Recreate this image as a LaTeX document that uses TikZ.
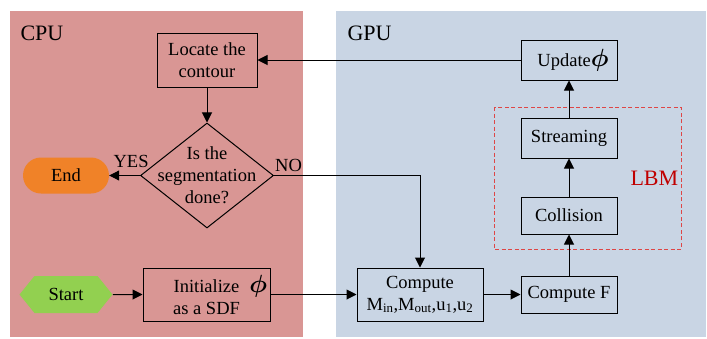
\documentclass[tikz,border=0pt]{standalone}
\usepackage{fontspec}
\setmainfont{Liberation Serif}
\usetikzlibrary{shapes.geometric,shapes.symbols,arrows.meta}
\definecolor{cpupink}{RGB}{217,150,148}
\definecolor{gpublue}{RGB}{201,213,228}
\definecolor{endorange}{RGB}{240,130,40}
\definecolor{startgreen}{RGB}{146,208,80}
\definecolor{lbmred}{RGB}{192,0,0}
\definecolor{dashred}{RGB}{222,70,70}
\newcommand{\bigphi}{{\fontsize{25}{25}\selectfont\boldmath$\phi$}}
\begin{document}
\begin{tikzpicture}[x=1pt,y=-1pt,font=\fontsize{18.5}{22}\selectfont,
  box/.style={draw, line width=1pt, align=center, inner sep=0pt},
  arr/.style={-{Triangle[length=10pt,width=10pt]}, line width=1pt},
  big/.style={font=\fontsize{22}{24}\selectfont}]
  \useasboundingbox (0,0) rectangle (707,338);
  \fill[cpupink] (10,11) rectangle (303,337);
  \fill[gpublue] (336,11) rectangle (706,337);
  \node[big, anchor=base west] (cpu) at (17,40) {CPU};
  \node[big, anchor=base west] (gpu) at (344,40) {GPU};
  % CPU side
  \node[box, minimum width=100pt, minimum height=54pt] (locate) at (207,60) {Locate the\\contour};
  \node[draw, diamond, line width=1pt, minimum width=133pt, minimum height=105pt, inner sep=0pt,
        label={[align=center]center:Is the\\segmentation\\done?}] (done) at (207,175.5) {};
  \node[fill=endorange, rounded corners=18pt, minimum width=86pt, minimum height=36pt] (end) at (66,175.5) {End};
  \node[signal, signal to=west and east, signal pointer angle=102, fill=startgreen,
        minimum width=93pt, minimum height=37pt, inner sep=0pt] (start) at (66,294.5) {Start};
  \node[box, minimum width=127pt, minimum height=53pt] (init) at (206.5,294.5) {Initialize\rlap{\hspace{10pt}\bigphi}\\as a SDF};
  % GPU side
  \node[box, minimum width=126pt, minimum height=53pt] (comp) at (420,294.5) {Compute\\M\textsubscript{in},M\textsubscript{out},u\textsubscript{1},u\textsubscript{2}};
  \node[box, minimum width=96pt, minimum height=37pt] (compf) at (569,294.5) {Compute F};
  \node[box, minimum width=96pt, minimum height=37pt] (coll) at (569,215.5) {Collision};
  \node[box, minimum width=96pt, minimum height=40pt] (stream) at (569,138) {Streaming};
  \node[box, minimum width=96pt, minimum height=40pt] (update) at (569,60) {\hspace{8pt}Update\bigphi};
  \draw[dashred, dash pattern=on 4pt off 2.5pt, line width=0.9pt] (494,107) rectangle (681,249);
  \node[big, text=lbmred, anchor=base west] (lbm) at (627,185) {LBM};
  % arrows
  \draw[arr] (update) -- (locate);
  \draw[arr] (locate) -- (done);
  \draw[arr] (done) -- node[pos=0.29, above=4pt] {YES} (end);
  \draw[arr] (done.east) -| node[pos=0.05, above] {NO} (comp);
  \draw[arr] (start) -- (init);
  \draw[arr] (init) -- (comp);
  \draw[arr] (comp) -- (compf);
  \draw[arr] (compf) -- (coll);
  \draw[arr] (coll) -- (stream);
  \draw[arr] (stream) -- (update);
\end{tikzpicture}
\end{document}
